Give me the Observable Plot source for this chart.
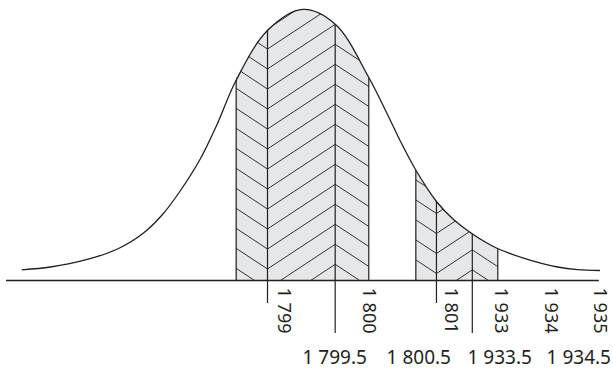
<!DOCTYPE html>
<html><head><meta charset="utf-8">
<script src="https://cdn.jsdelivr.net/npm/d3@7"></script>
<script src="https://cdn.jsdelivr.net/npm/@observablehq/plot@0.6"></script>
<style>body{margin:0;background:#fff}</style>
</head><body><div id="chart"></div>
<script>
// ---- data (x in standard-deviation units, y = density) ----
const curveZ = [-3.228, -2.902, -2.523, -2.132, -1.833, -1.615, -1.408, -1.178, -0.983, -0.770, -0.408, 0.000, 0.374, 0.756, 0.971, 1.121, 1.293, 1.534, 1.730, 1.948, 2.236, 2.534, 2.925, 3.155, 3.408];
const curveDensity = [0.0158, 0.0199, 0.0295, 0.0464, 0.0700, 0.0972, 0.1326, 0.1797, 0.2313, 0.2947, 0.3683, 0.3993, 0.3772, 0.2991, 0.2446, 0.2048, 0.1635, 0.1164, 0.0899, 0.0685, 0.0471, 0.0331, 0.0199, 0.0159, 0.0147];
const regionEdges = [[-0.768, -0.408, 0.370, 0.756], [1.297, 1.534, 1.946, 2.239]];
const tickZ = [-0.408, 0.370, 1.534, 1.946];
const tickDepth = [-0.034, -0.078, -0.034, -0.078];
const labelText = ["1 799", "1 800", "1 801", "1 933", "1 934", "1 935"];
const labelZ = [-0.224, 0.753, 1.696, 2.271, 2.846, 3.409];
const halfLabelText = ["1 799.5", "1 800.5", "1 933.5", "1 934.5"];
const halfLabelZ = [0.364, 1.331, 2.261, 3.170];
const axisExtent = [-3.408, 3.406];

// ---- layout / style ----
const xDomain = [-3.5, 3.5], xRange = [-2, 607];
const yDomain = [0, 0.4], yRange = [280, 8.5];
const ink = "#231f20";
const sx = Plot.scale({x: {domain: xDomain, range: xRange}});
const sy = Plot.scale({y: {domain: yDomain, range: yRange}});

const curve = curveZ.map((z, i) => ({z, d: curveDensity[i]}));

// herringbone hatching (decoration, computed in screen space from region edges)
const slope = 0.66, gap = 20, phases = [11.5, 7];
const yBase = sy.apply(0), yTop = sy.apply(0.4);
const hatch = [];
function addSeg(xa, ya, xb, yb) {
  let t0 = 0, t1 = 1;
  const dy = yb - ya;
  if (dy === 0) { if (ya < yTop || ya > yBase) return; }
  else {
    const ta = (yTop - ya) / dy, tb = (yBase - ya) / dy;
    t0 = Math.max(t0, Math.min(ta, tb));
    t1 = Math.min(t1, Math.max(ta, tb));
  }
  if (t1 <= t0) return;
  hatch.push({
    x1: sx.invert(xa + t0 * (xb - xa)), y1: sy.invert(ya + t0 * dy),
    x2: sx.invert(xa + t1 * (xb - xa)), y2: sy.invert(ya + t1 * dy)
  });
}
regionEdges.forEach((edges, r) => {
  const p = edges.map(v => sx.apply(v));
  for (let k = -25; k <= 25; k++) {
    const v = yBase - phases[r] - gap * k;
    const w = v - slope * (p[2] - p[1]);
    addSeg(p[0], v - slope * (p[1] - p[0]), p[1], v);
    addSeg(p[1], v, p[2], w);
    addSeg(p[2], w, p[3], w + slope * (p[3] - p[2]));
  }
});

const outerEdges = regionEdges.flatMap(e => [e[0], e[3]]);
const ticks = tickZ.map((z, i) => ({z, depth: tickDepth[i]}));

const chart = Plot.plot({
  width: 613,
  height: 375,
  x: {domain: xDomain, range: xRange, axis: null},
  y: {domain: yDomain, range: yRange, axis: null},
  style: {fontFamily: "'Noto Sans', sans-serif", background: "#fff", overflow: "visible"},
  marks: [
    Plot.rect(regionEdges, {x1: e => e[0], x2: e => e[3], y1: () => 0, y2: () => 0.41, fill: "#e6e7e8"}),
    Plot.link(hatch, {x1: "x1", y1: "y1", x2: "x2", y2: "y2", stroke: "#333", strokeWidth: 1}),
    Plot.ruleX(outerEdges, {x: d => d, y1: () => 0, y2: () => 0.41, stroke: ink, strokeWidth: 1.2}),
    Plot.ruleX(ticks, {x: "z", y1: "depth", y2: () => 0.41, stroke: ink, strokeWidth: 1.2}),
    Plot.areaY(curve, {x: "z", y1: "d", y2: () => 0.45, fill: "#fff", curve: "catmull-rom"}),
    Plot.line(curve, {x: "z", y: "d", stroke: ink, strokeWidth: 1.3, curve: "catmull-rom"}),
    Plot.ruleY([0], {x1: () => axisExtent[0], x2: () => axisExtent[1], stroke: ink, strokeWidth: 1.3}),
    Plot.text(labelText, {x: (d, i) => labelZ[i], y: () => -0.0105, text: d => d, rotate: 90, textAnchor: "start", fontSize: 18, fill: ink}),
    Plot.text(halfLabelText, {x: (d, i) => halfLabelZ[i], y: () => -0.1134, text: d => d, fontSize: 19, fill: ink})
  ]
});
document.getElementById("chart").appendChild(chart);
</script>
</body></html>
